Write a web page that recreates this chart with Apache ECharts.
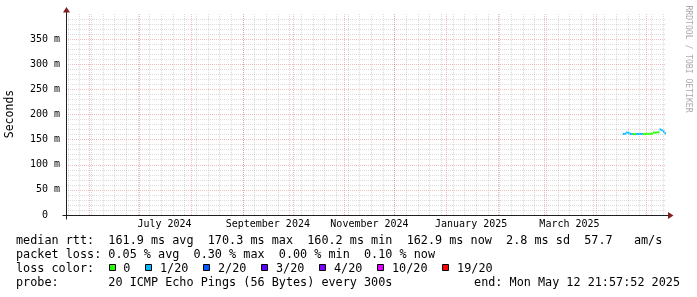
<!DOCTYPE html>
<html><head><meta charset="utf-8">
<script src="https://cdn.jsdelivr.net/npm/echarts@6/dist/echarts.min.js"></script>
<style>html,body{margin:0;padding:0;background:#fff}#c{width:697px;height:297px}</style>
</head><body><div id="c"></div>
<script>
// ---------- data ----------
const END_TIME = Date.UTC(2025, 4, 12, 21, 57, 52);
const SPAN_DAYS = 360;
const Y_MAX = 400;
const yTickValues = [0, 50, 100, 150, 200, 250, 300, 350];
const yTickLabels = ['0  ', '50 m', '100 m', '150 m', '200 m', '250 m', '300 m', '350 m'];
const xTickMonths = ['2024-07', '2024-09', '2024-11', '2025-01', '2025-03'];
const xTickLabels = ['July 2024', 'September 2024', 'November 2024', 'January 2025', 'March 2025'];

const dayDates = ['2025-04-17','2025-04-18','2025-04-19','2025-04-20','2025-04-21','2025-04-22','2025-04-23',
  '2025-04-24','2025-04-25','2025-04-26','2025-04-27','2025-04-28','2025-04-29','2025-04-30','2025-05-01',
  '2025-05-02','2025-05-03','2025-05-04','2025-05-05','2025-05-06','2025-05-07','2025-05-08','2025-05-09',
  '2025-05-10','2025-05-11','2025-05-12'];
const medianRtt = [161.5,161.8,164.0,163.6,161.6,161.2,161.0,161.3,161.4,161.1,161.6,161.2,161.4,
  161.0,161.5,161.3,161.6,161.9,164.1,163.7,164.2,164.5,170.3,168.6,166.0,162.9];
const lossCount = [1,1,1,1,1,1,0,0,1,1,1,1,0,0,0,0,0,0,0,0,0,0,1,1,1,1];

const lossLevels = [0, 1, 2, 3, 4, 10, 19];
const lossLabels = ['0', '1/20', '2/20', '3/20', '4/20', '10/20', '19/20'];
const lossColors = ['#26ff00', '#00b8ff', '#0059ff', '#5e00ff', '#7e00ff', '#dd00ff', '#ff0000'];

const statLines = [
  'median rtt:  161.9 ms avg  170.3 ms max  160.2 ms min  162.9 ms now  2.8 ms sd  57.7   am/s',
  'packet loss: 0.05 % avg  0.30 % max  0.00 % min  0.10 % now',
  'loss color:',
  'probe:       20 ICMP Echo Pings (56 Bytes) every 300s'
];
const endText = 'end: Mon May 12 21:57:52 2025';
const yTitle = 'Seconds';
const watermark = 'RRDTOOL / TOBI OETIKER';

// ---------- helpers ----------
const DAY = 86400000;
const X_MIN = END_TIME - SPAN_DAYS * DAY;
const MONO = 'DejaVu Sans Mono';
const GRID_MINOR = 'rgba(143,143,143,0.32)';
const GRID_MAJOR = 'rgba(222,79,79,0.38)';
const AXIS_COL = '#1f1f1f';
const ARROW_COL = '#801f1f';

function parseDay(s) { const p = s.split('-').map(Number); return Date.UTC(p[0], p[1] - 1, p[2] || 1); }
function levelIndex(c) { let k = 0; lossLevels.forEach((l, i) => { if (c >= l) k = i; }); return k; }

const xTickPos = xTickMonths.map(m => parseDay(m) + 15 * DAY);

const gridLines = [];
for (let t = Date.UTC(2024, 4, 19); t < END_TIME; t += 7 * DAY) gridLines.push([t, 0]);
for (let m = 5; ; m++) { const t = Date.UTC(2024, m, 1); if (t > END_TIME) break; gridLines.push([t, 1]); }

const seriesData = dayDates.map((d, i) => [parseDay(d), medianRtt[i], levelIndex(lossCount[i])]);

const chart = echarts.init(document.getElementById('c'), null, { renderer: 'canvas', width: 697, height: 297 });

chart.setOption({
  animation: false,
  backgroundColor: '#ffffff',
  grid: { left: 66, right: 31, top: 14, bottom: 82, containLabel: false },
  xAxis: {
    type: 'value', min: X_MIN, max: END_TIME,
    axisLine: { show: false },
    axisTick: { show: false },
    splitLine: { show: false },
    axisLabel: {
      customValues: xTickPos,
      fontFamily: MONO, fontSize: 10, color: '#000', margin: 4,
      formatter: (v) => { let best = 0; xTickPos.forEach((p, i) => { if (Math.abs(p - v) < Math.abs(xTickPos[best] - v)) best = i; }); return xTickLabels[best]; }
    }
  },
  yAxis: {
    type: 'value', min: 0, max: Y_MAX, interval: 50,
    axisLine: { show: false },
    axisTick: { show: false },
    axisLabel: {
      fontFamily: MONO, fontSize: 10, color: '#000', margin: 6, showMaxLabel: false,
      formatter: (v) => { const i = yTickValues.indexOf(v); return i >= 0 ? yTickLabels[i] : ''; }
    },
    splitLine: { show: true, showMinLine: false, showMaxLine: false, lineStyle: { color: GRID_MAJOR, width: 1, type: [1, 1] } },
    minorTick: { show: false, splitNumber: 5 },
    minorSplitLine: { show: true, lineStyle: { color: GRID_MINOR, width: 1, type: [1, 1] } }
  },
  series: [
    {
      type: 'custom', name: 'grid', silent: true, z: 1,
      data: gridLines,
      renderItem: (params, api) => {
        const t = api.value(0), kind = api.value(1);
        const p = api.coord([t, 0]), q = api.coord([t, Y_MAX]);
        const x = Math.round(p[0]) + 0.5;
        return { type: 'line', shape: { x1: x, y1: p[1], x2: x, y2: q[1] },
          style: { stroke: kind ? GRID_MAJOR : GRID_MINOR, lineWidth: 1, lineDash: [1, 1] } };
      }
    },
    {
      type: 'custom', name: 'median rtt', z: 3,
      data: seriesData,
      renderItem: (params, api) => {
        const t = api.value(0), v = api.value(1), c = api.value(2);
        const a = api.coord([t, v]), b = api.coord([Math.min(t + DAY, END_TIME), v]);
        return { type: 'rect', shape: { x: a[0], y: a[1] - 1, width: b[0] - a[0], height: 2 },
          style: { fill: lossColors[c] } };
      }
    }
  ]
});

// ---------- decorations: axes with arrows, texts, legend ----------
const x0 = Math.round(chart.convertToPixel({ xAxisIndex: 0 }, X_MIN)) + 0.5;
const x1 = Math.round(chart.convertToPixel({ xAxisIndex: 0 }, END_TIME));
const y0 = Math.round(chart.convertToPixel({ yAxisIndex: 0 }, 0)) + 0.5;
const yT = Math.round(chart.convertToPixel({ yAxisIndex: 0 }, Y_MAX));

const CW = 7.1, FS = 11.8, LX = 16;
const centers = [241.3, 255.3, 269.3, 283.3];
const g = [];
g.push({ type: 'line', shape: { x1: x0, y1: y0 + 4, x2: x0, y2: yT - 3 }, style: { stroke: AXIS_COL, lineWidth: 1 }, z: 10 });
g.push({ type: 'line', shape: { x1: x0 - 4, y1: y0, x2: x1 + 2, y2: y0 }, style: { stroke: AXIS_COL, lineWidth: 1 }, z: 10 });
g.push({ type: 'polygon', shape: { points: [[x0 - 3.5, yT - 1.5], [x0 + 3.5, yT - 1.5], [x0, yT - 7]] }, style: { fill: ARROW_COL }, z: 11 });
g.push({ type: 'polygon', shape: { points: [[x1 + 2, y0 - 3.5], [x1 + 2, y0 + 3.5], [x1 + 7.5, y0]] }, style: { fill: ARROW_COL }, z: 11 });
g.push({ type: 'text', x: 10.5, y: 114, rotation: Math.PI / 2,
  style: { text: yTitle, font: '11.5px ' + MONO, fill: '#000', align: 'center', verticalAlign: 'middle' }, z: 10 });
g.push({ type: 'text', x: 688, y: 59, rotation: -Math.PI / 2,
  style: { text: watermark, font: '8.1px ' + MONO, fill: '#aaaaaa', align: 'center', verticalAlign: 'middle' }, z: 10 });
statLines.forEach((s, i) => {
  g.push({ type: 'text', x: LX, y: centers[i],
    style: { text: s, font: FS + 'px ' + MONO, fill: '#000', align: 'left', verticalAlign: 'middle' }, z: 10 });
});
g.push({ type: 'text', x: 680, y: centers[3],
  style: { text: endText, font: FS + 'px ' + MONO, fill: '#000', align: 'right', verticalAlign: 'middle' }, z: 10 });
let tx = 123.3;
lossLabels.forEach((lab, i) => {
  const sx = Math.round(tx - 14.7) + 0.5;
  g.push({ type: 'rect', shape: { x: sx, y: Math.round(centers[2] - 5) + 0.5, width: 6, height: 6 },
    style: { fill: lossColors[i], stroke: '#000', lineWidth: 1 }, z: 10 });
  g.push({ type: 'text', x: tx, y: centers[2],
    style: { text: lab, font: FS + 'px ' + MONO, fill: '#000', align: 'left', verticalAlign: 'middle' }, z: 10 });
  tx += lab.length * CW + 29.6;
});
chart.setOption({ graphic: { elements: g } });
</script>
</body></html>
